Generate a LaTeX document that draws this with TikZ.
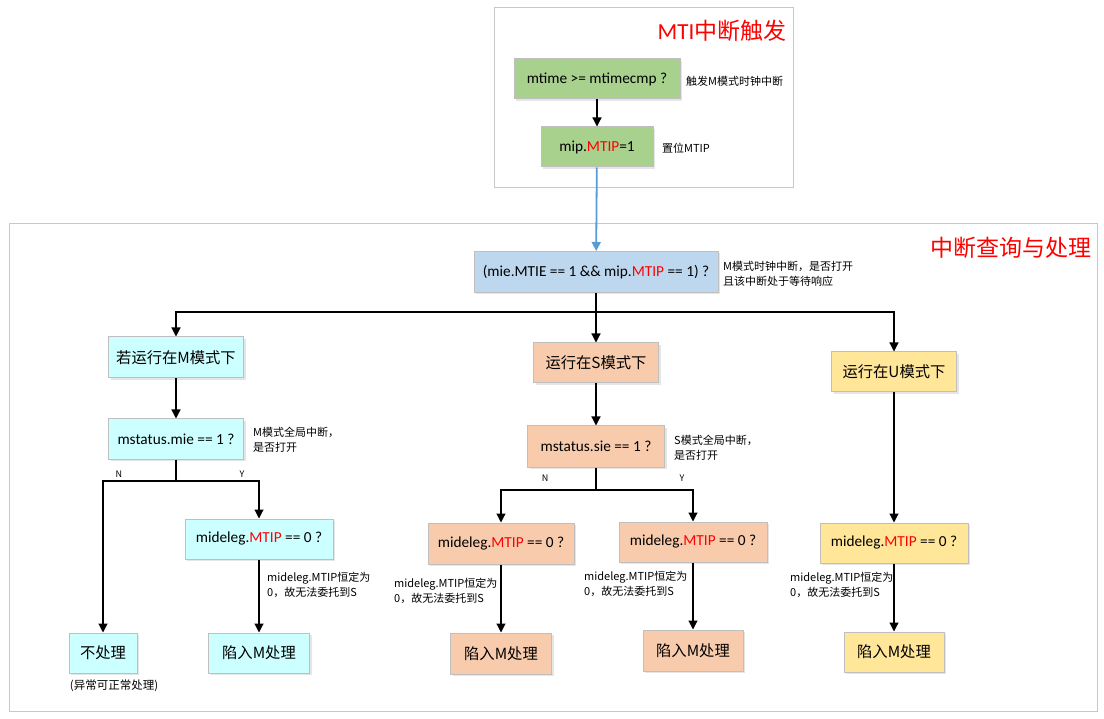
\documentclass[tikz,border=0pt]{standalone}
\usepackage{fontspec}
\setmainfont{Carlito}
\newfontfamily\cjk{Noto Sans CJK SC}
\usepackage{tikz}
\usetikzlibrary{arrows.meta, shadows}
\usepackage{xcolor}
\definecolor{boxline}{HTML}{BFBFBF}
\definecolor{frameline}{HTML}{C8C8C8}
\definecolor{cgreen}{HTML}{A9D18E}
\definecolor{cblue}{HTML}{BDD7EE}
\definecolor{ccyan}{HTML}{CCFFFF}
\definecolor{cpeach}{HTML}{F8CBAD}
\definecolor{cyellow}{HTML}{FFE699}
\definecolor{linkblue}{HTML}{5B9BD5}

\begin{document}
\begin{tikzpicture}[x=1pt, y=-1pt,
    box/.style={draw=boxline, line width=1pt, minimum height=40pt, inner sep=0pt,
      font=\fontsize{15.3}{18}\selectfont,
      drop shadow={shadow xshift=2pt, shadow yshift=-2pt, opacity=0.25, fill=black!40}},
    note/.style={anchor=west, align=left, inner sep=0pt, font=\cjk\fontsize{11}{15}\selectfont},
    yn/.style={inner sep=0pt, font=\cjk\fontsize{9}{10}\selectfont},
    title/.style={text=red, inner sep=0pt, font=\fontsize{23}{26}\selectfont},
    frame/.style={draw=frameline, line width=1pt},
    arr/.style={-{Triangle[length=9pt,width=9pt]}, line width=1.2pt}]
  \useasboundingbox[fill=white] (0,0) rectangle (1104,719);
  % frames
  \draw[frame] (494,8) rectangle (793,188);
  \draw[frame] (9,224) rectangle (1097,711);
  \node[title] (ttop) at (722,31) {MTI{\cjk 中断触发}};
  \node[title] (tmain) at (1011,248) {\cjk 中断查询与处理};

  % trigger
  \node[box, fill=cgreen, minimum width=166pt] (trig) at (597,79) {mtime >= mtimecmp ?};
  \node[box, fill=cgreen, minimum width=112pt] (mipset) at (597,147) {mip.\textcolor{red}{MTIP}=1};
  \node[note] (ntrig) at (686,81) {触发M模式时钟中断};
  \node[note] (nmip) at (662,148) {置位MTIP};
  \draw[arr] (trig) -- (mipset);

  % query
  \node[box, fill=cblue, minimum width=244pt, minimum height=41pt] (check) at (596,272)
    {(mie.MTIE == 1 \&\& mip.\textcolor{red}{MTIP} == 1) ?};
  \node[note] (ncheck) at (723,273.5) {M模式时钟中断，是否打开\\且该中断处于等待响应};
  \draw[arr, linkblue, line width=1.8pt] (mipset) -- (check);

  % three modes
  \coordinate (j0) at (596,312);
  \node[box, fill=ccyan, minimum width=135pt, minimum height=41pt] (modeM) at (176,357.5) {\cjk 若运行在M模式下};
  \node[box, fill=cpeach, minimum width=125pt] (modeS) at (596,363) {\cjk 运行在S模式下};
  \node[box, fill=cyellow, minimum width=125pt] (modeU) at (894,372) {\cjk 运行在U模式下};
  \draw[line width=1.2pt] (check) -- (j0);
  \draw[arr] (j0) -| (modeM.north);
  \draw[arr] (j0) -- (modeS.north);
  \draw[arr] (j0) -| (modeU.north);

  % M mode
  \node[box, fill=ccyan, minimum width=135pt] (mieM) at (176,439) {mstatus.mie == 1 ?};
  \node[note] (nmieM) at (253,440) {M模式全局中断，\\是否打开};
  \draw[arr] (modeM) -- (mieM);
  \coordinate (jM) at (176,481);
  \node[yn] (nM) at (119,474) {N};
  \node[yn] (yM) at (242,474) {Y};
  \node[box, fill=ccyan, minimum width=148pt] (delegM) at (259,539) {mideleg.\textcolor{red}{MTIP} == 0 ?};
  \node[box, fill=ccyan, minimum width=68pt] (noproc) at (103,653) {\cjk 不处理};
  \node[note, anchor=center, font=\cjk\fontsize{11.5}{14}\selectfont] (nnoproc) at (114,686) {(异常可正常处理)};
  \node[box, fill=ccyan, minimum width=101pt] (trapM) at (259,653) {\cjk 陷入M处理};
  \draw[line width=1.2pt] (mieM) -- (jM);
  \draw[arr] (jM) -| (noproc.north);
  \draw[arr] (jM) -| (delegM.north);
  \draw[arr] (delegM) -- (trapM);

  % S mode
  \node[box, fill=cpeach, minimum width=137pt, minimum height=41pt] (sieS) at (596,446.5) {mstatus.sie == 1 ?};
  \node[note] (nsieS) at (674,447.5) {S模式全局中断，\\是否打开};
  \draw[arr] (modeS) -- (sieS);
  \coordinate (jS) at (596,490);
  \node[yn] (nS) at (545,478) {N};
  \node[yn] (yS) at (682,478) {Y};
  \node[box, fill=cpeach, minimum width=146pt, minimum height=41pt] (delegSa) at (501,543.5) {mideleg.\textcolor{red}{MTIP} == 0 ?};
  \node[box, fill=cpeach, minimum width=148pt] (delegSb) at (693,542) {mideleg.\textcolor{red}{MTIP} == 0 ?};
  \node[box, fill=cpeach, minimum width=101pt, minimum height=41pt] (trapSa) at (501,653.5) {\cjk 陷入M处理};
  \node[box, fill=cpeach, minimum width=100pt, minimum height=41pt] (trapSb) at (693,650.5) {\cjk 陷入M处理};
  \draw[line width=1.2pt] (sieS) -- (jS);
  \draw[arr] (jS) -| (delegSa.north);
  \draw[arr] (jS) -| (delegSb.north);
  \draw[arr] (delegSa) -- (trapSa);
  \draw[arr] (delegSb) -- (trapSb);

  % U mode
  \node[box, fill=cyellow, minimum width=148pt] (delegU) at (894,543) {mideleg.\textcolor{red}{MTIP} == 0 ?};
  \node[box, fill=cyellow, minimum width=100pt] (trapU) at (894,652) {\cjk 陷入M处理};
  \draw[arr] (modeU) -- (delegU);
  \draw[arr] (delegU) -- (trapU);

  % fixed delegation notes
  \foreach \nm/\x/\y in {ndelegM/267/584.5, ndelegSa/394/591, ndelegSb/584/584, ndelegU/790/584.5} {
    \node[note] (\nm) at (\x,\y) {mideleg.MTIP恒定为\\0，故无法委托到S};
  }
\end{tikzpicture}
\end{document}
